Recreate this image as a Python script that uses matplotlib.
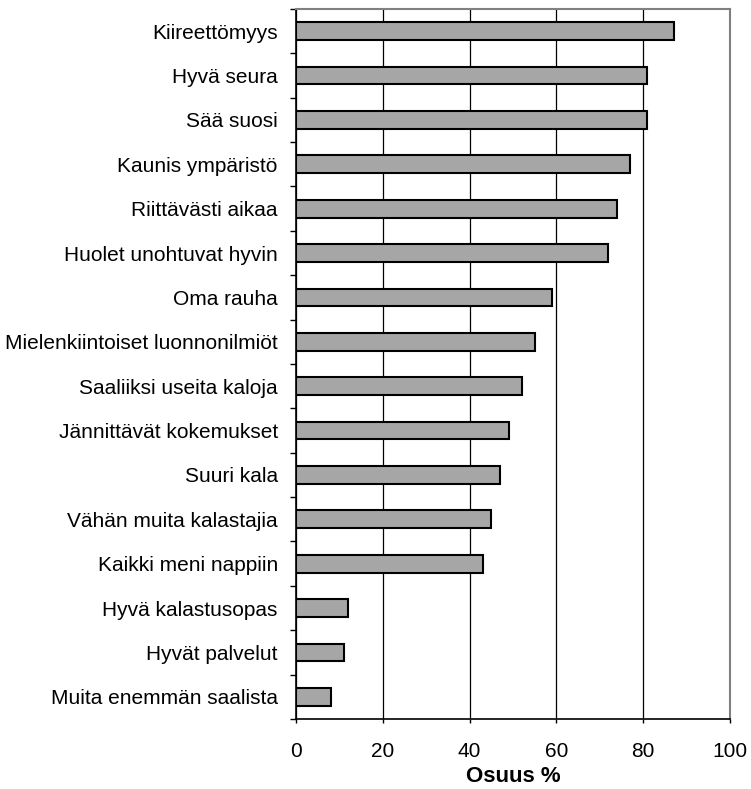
import numpy as np
import matplotlib.pyplot as plt
from matplotlib.ticker import FixedLocator

plt.rcParams['font.family'] = ['Liberation Sans', 'DejaVu Sans']

categories = ['Kiireettömyys', 'Hyvä seura', 'Sää suosi', 'Kaunis ympäristö',
              'Riittävästi aikaa', 'Huolet unohtuvat hyvin', 'Oma rauha',
              'Mielenkiintoiset luonnonilmiöt', 'Saaliiksi useita kaloja',
              'Jännittävät kokemukset', 'Suuri kala', 'Vähän muita kalastajia',
              'Kaikki meni nappiin', 'Hyvä kalastusopas', 'Hyvät palvelut',
              'Muita enemmän saalista']
values = [87, 81, 81, 77, 74, 72, 59, 55, 52, 49, 47, 45, 43, 12, 11, 8]
xticks = [0, 20, 40, 60, 80, 100]

fig = plt.figure(figsize=(7.51, 7.89), dpi=100)
ax = fig.add_axes([0.394, 0.0887, 0.578, 0.9])

y = np.arange(len(categories))
ax.barh(y, values, height=0.4, color='#a6a6a6', edgecolor='black', linewidth=1.5, zorder=2)

ax.set_xlim(0, 100)
ax.set_ylim(len(categories) - 0.5, -0.5)
ax.set_xticks(xticks)
ax.set_xticklabels([str(t) for t in xticks], fontsize=15)
ax.set_yticks(y)
ax.set_yticklabels(categories, fontsize=15)
ax.yaxis.set_minor_locator(FixedLocator(np.arange(len(categories) + 1) - 0.5))
ax.tick_params(axis='y', which='major', length=0, pad=13)
ax.tick_params(axis='y', which='minor', length=4, width=1, direction='out')
ax.tick_params(axis='x', length=3, width=1, direction='out', pad=13.5)

ax.set_axisbelow(True)
ax.grid(axis='x', color='black', linewidth=0.9)

ax.spines['left'].set_linewidth(1.2)
ax.spines['bottom'].set_linewidth(1.2)
for s in ['top', 'right']:
    ax.spines[s].set_color('#808080')
    ax.spines[s].set_linewidth(1.5)

ax.set_xlabel('Osuus %', fontsize=16, fontweight='bold', labelpad=4)

fig.savefig('out.png', dpi=100)
